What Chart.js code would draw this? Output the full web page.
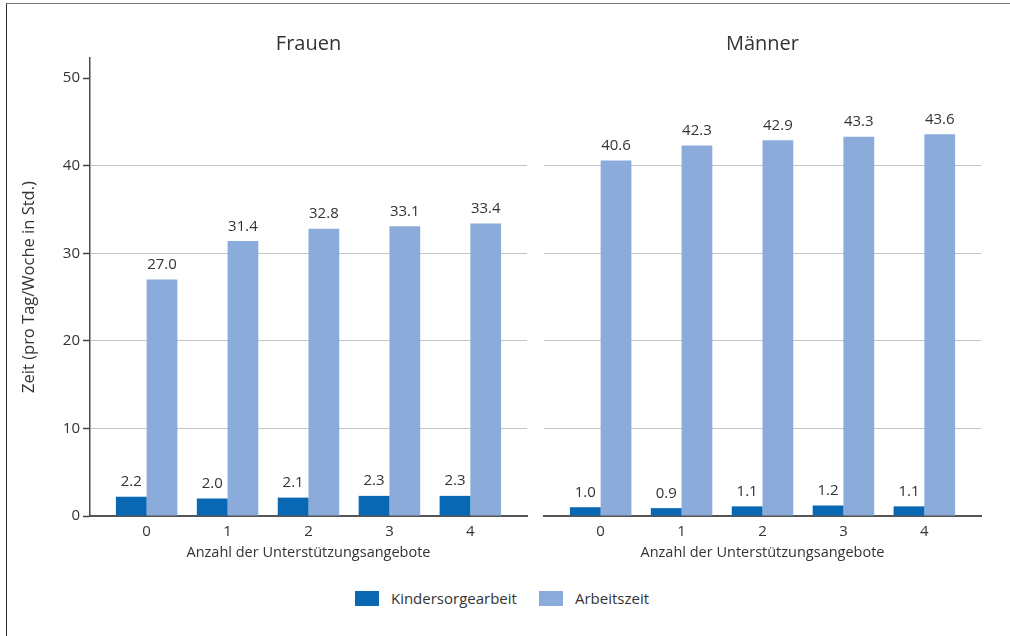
<!DOCTYPE html>
<html lang="de">
<head>
<meta charset="utf-8">
<title>Kindersorgearbeit und Arbeitszeit</title>
<script src="https://cdn.jsdelivr.net/npm/chart.js@4.4.1/dist/chart.umd.min.js"></script>
<style>
  html, body { margin: 0; padding: 0; background: #fff; }
  body { width: 1010px; height: 636px; position: relative; overflow: hidden;
         font-family: "Open Sans", "Noto Sans", sans-serif; color: #333; }
  .frame { position: absolute; left: 6px; top: 3px; width: 1010px; height: 640px;
           border-top: 1.5px solid #7a7a7a; border-left: 1.5px solid #2e2e2e; box-sizing: border-box; }
  .panel { position: absolute; top: 0; height: 580px; }
  #left  { left: 0; width: 540px; }
  #right { left: 530px; width: 480px; }
  .legend { position: absolute; top: 588px; left: -3px; width: 1010px; display: flex;
            justify-content: center; align-items: center; font-size: 15px; color: #333; }
  .legend .item { display: flex; align-items: center; margin: 0 11px; }
  .legend .box { width: 24px; height: 15px; margin-right: 12px; }
</style>
</head>
<body>
<div class="frame"></div>
<div class="panel" id="left"><canvas id="cLeft" width="540" height="580"></canvas></div>
<div class="panel" id="right"><canvas id="cRight" width="480" height="580"></canvas></div>
<div class="legend" id="legend"></div>

<script>
// Anzahl der Unterstützungsangebote
const categories = [0, 1, 2, 3, 4];

// Frauen, Stunden
const frauenKindersorge = [2.2, 2.0, 2.1, 2.3, 2.3];
const frauenArbeitszeit = [27.0, 31.4, 32.8, 33.1, 33.4];

// Männer, Stunden
const maennerKindersorge = [1.0, 0.9, 1.1, 1.2, 1.1];
const maennerArbeitszeit = [40.6, 42.3, 42.9, 43.3, 43.6];

const yTicks = [0, 10, 20, 30, 40, 50];
const seriesNames = ['Kindersorgearbeit', 'Arbeitszeit'];
const seriesColors = ['#0868b4', '#8bacda'];

const FONT = '"Open Sans", "Noto Sans", sans-serif';
const TEXT = '#333333';

// value labels above each bar
const valueLabels = {
  id: 'valueLabels',
  afterDatasetsDraw(chart) {
    const ctx = chart.ctx;
    ctx.save();
    ctx.font = '15px ' + FONT;
    ctx.fillStyle = TEXT;
    ctx.textAlign = 'center';
    ctx.textBaseline = 'alphabetic';
    chart.data.datasets.forEach((ds, i) => {
      chart.getDatasetMeta(i).data.forEach((bar, j) => {
        ctx.fillText(ds.data[j].toFixed(1), bar.x, bar.y - 10.5);
      });
    });
    ctx.restore();
  }
};

// panel heading, centred over the plot area
const panelTitle = {
  id: 'panelTitle',
  afterDraw(chart, args, opts) {
    const ctx = chart.ctx;
    const a = chart.chartArea;
    ctx.save();
    ctx.font = '20px ' + FONT;
    ctx.fillStyle = TEXT;
    ctx.textAlign = 'center';
    ctx.textBaseline = 'alphabetic';
    ctx.fillText(opts.text, (a.left + a.right) / 2, 50);
    ctx.restore();
  }
};

function makePanel(canvasId, title, kinder, arbeit, isLeft) {
  return new Chart(document.getElementById(canvasId), {
    type: 'bar',
    data: {
      labels: categories,
      datasets: [
        { label: seriesNames[0], data: kinder, backgroundColor: seriesColors[0] },
        { label: seriesNames[1], data: arbeit, backgroundColor: seriesColors[1] }
      ]
    },
    options: {
      responsive: false,
      animation: false,
      events: [],
      categoryPercentage: 0.76,
      barPercentage: 1.0,
      layout: { padding: { left: 0, right: isLeft ? 13 : 29, top: 58, bottom: 0 } },
      plugins: {
        legend: { display: false },
        tooltip: { enabled: false },
        title: { display: false },
        panelTitle: { text: title }
      },
      scales: {
        x: {
          type: 'linear',
          offset: false,
          min: -0.7,
          max: 4.7,
          afterBuildTicks: (s) => { s.ticks = categories.map(v => ({ value: v })); },
          afterFit: (s) => { s.height = 64; },
          grid: { display: false, drawTicks: false, offset: false },
          border: { display: true, color: '#555555', width: 2 },
          ticks: {
            color: TEXT,
            padding: 7,
            font: { family: FONT, size: 15 },
            callback: (v) => String(v)
          },
          title: {
            display: true,
            text: 'Anzahl der Unterstützungsangebote',
            color: TEXT,
            font: { family: FONT, size: 14.5, lineHeight: 1.2 },
            padding: { top: 0, bottom: 18 }
          }
        },
        y: {
          min: 0,
          max: 52.3,
          afterBuildTicks: (s) => { s.ticks = yTicks.map(v => ({ value: v })); },
          afterFit: (s) => { s.width = isLeft ? 90 : 14; },
          grid: {
            color: (c) => (c.tick && (c.tick.value === 50 || c.tick.value === 0)) ? 'rgba(0,0,0,0)' : '#c4c4c4',
            lineWidth: 1,
            drawTicks: isLeft,
            tickLength: 7,
            tickColor: '#444444',
            tickWidth: 1.5
          },
          border: { display: isLeft, color: '#4a4a4a', width: 1.5 },
          ticks: {
            display: isLeft,
            color: TEXT,
            padding: 3,
            font: { family: FONT, size: 15 }
          },
          title: {
            display: isLeft,
            text: 'Zeit (pro Tag/Woche in Std.)',
            color: TEXT,
            font: { family: FONT, size: 16.5, lineHeight: 1.2 },
            padding: { top: 19, bottom: 0 }
          }
        }
      }
    },
    plugins: [valueLabels, panelTitle]
  });
}

makePanel('cLeft', 'Frauen', frauenKindersorge, frauenArbeitszeit, true);
makePanel('cRight', 'Männer', maennerKindersorge, maennerArbeitszeit, false);

// shared legend below both panels
const legendEl = document.getElementById('legend');
seriesNames.forEach((name, i) => {
  const item = document.createElement('div');
  item.className = 'item';
  const box = document.createElement('span');
  box.className = 'box';
  box.style.background = seriesColors[i];
  const label = document.createElement('span');
  label.textContent = name;
  item.appendChild(box);
  item.appendChild(label);
  legendEl.appendChild(item);
});
</script>
</body>
</html>
